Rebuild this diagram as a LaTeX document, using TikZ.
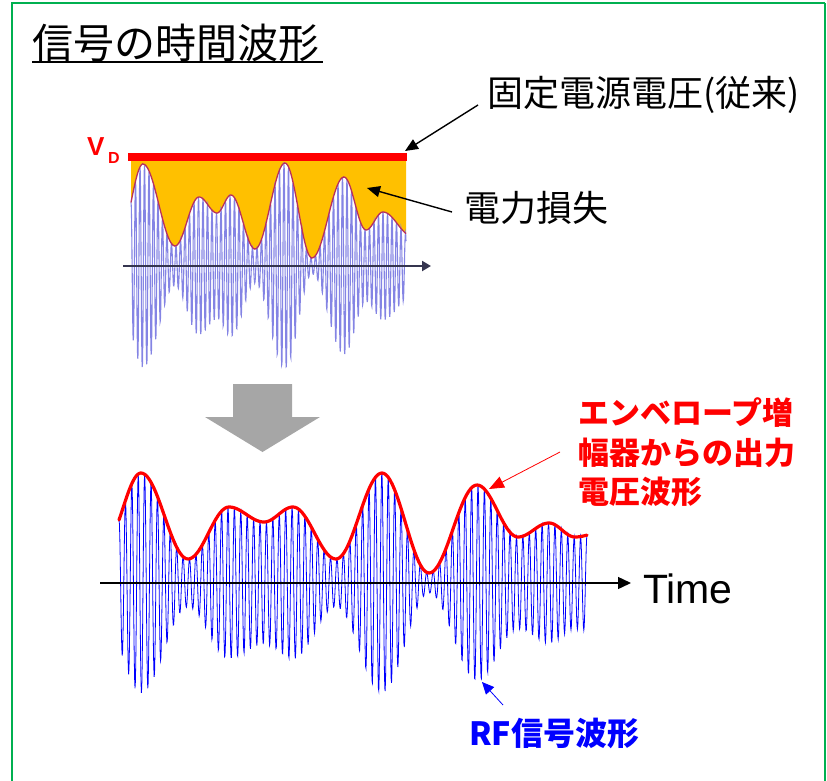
\documentclass[tikz,border=0pt]{standalone}
\usepackage{fontspec}
\setmainfont{Liberation Sans}
\newfontfamily\jp{Noto Sans CJK JP}
\usetikzlibrary{arrows.meta}
\definecolor{framegreen}{HTML}{00B050}
\definecolor{lossorange}{HTML}{FFC000}
\definecolor{arrowgray}{HTML}{A6A6A6}
\definecolor{topblue}{HTML}{8484E4}
\definecolor{topenv}{HTML}{B8305E}
\definecolor{topaxis}{HTML}{35354F}
\tikzset{
  leader/.style={line width=1.4pt,-{Triangle[length=13pt,width=11pt]}},
  jptext/.style={inner sep=0pt,anchor=west,font=\jp\fontsize{36}{36}\selectfont},
  redtext/.style={inner sep=0pt,anchor=west,text=red,font=\jp\bfseries\fontsize{31}{31}\selectfont},
  envline/.style={draw=red,line width=3.2pt,line join=round,line cap=round},
  rfwave/.style={draw=blue,line width=0.8pt},
  topwave/.style={draw=topblue,line width=1.1pt},
}
\def\botlist{119/141/105/40/141/110,141/188/141/110/188/24,188/229/188/24/229/76,229/264/229/76/264/61,264/293/264/61/293/76,293/336/293/76/336/24,336/382/336/24/382/110,382/429/382/110/429/10,429/477/429/10/477/98,477/518/477/98/518/46,518/549/518/46/549/60,549/575/549/60/575/46,575/587/575/46/600/50}
\def\toplist{131/143/120/30/143/102,143/175/143/102/175/20,175/199/175/20/199/69,199/217/199/69/217/53,217/231/217/53/231/71,231/255/231/71/255/17,255/285/255/17/285/103,285/312/285/103/312/8,312/344/312/8/344/89,344/366/344/89/366/36,366/383/366/36/383/54,383/406/383/54/412/30}
\begin{document}
\begin{tikzpicture}[x=1pt,y=-1pt]
\useasboundingbox (0,0) rectangle (827,781);
% frame
\begin{scope}
\clip (0,0) rectangle (827,781);
\draw[framegreen,line width=2pt] (12,800) -- (12,3) -- (825,3);
\draw[framegreen,line width=1.3pt] (825,3) -- (825,800);
\end{scope}
% title
\node[inner sep=0pt,anchor=west,font=\jp\fontsize{41}{41}\selectfont] (title) at (32,43) {信号の時間波形};
\draw[line width=2.8pt] (32,62) -- (323,62);
% ---------- top graph ----------
\fill[lossorange] (131,161) \foreach \xs/\xe/\xa/\ya/\xb/\yb in \toplist {
  -- plot[domain=\xs:\xe,samples=20] (\x,{266-(\ya+(\yb-\ya)*(1-cos(180*(\x-\xa)/(\xb-\xa)))/2)})
} -- (406,161) -- cycle;
\foreach \xs/\xe/\xa/\ya/\xb/\yb in \toplist {
  \pgfmathtruncatemacro\ns{(\xe-\xs)*16/4.5+2}
  \draw[topwave] plot[domain=\xs:\xe,samples=\ns] (\x,{266-(\ya+(\yb-\ya)*(1-cos(180*(\x-\xa)/(\xb-\xa)))/2)*cos(360*frac((\x-131)/4.5))});
}
\draw[topenv,line width=1.3pt] (131,{266-(30+72*(1-cos(180*11/23))/2)}) \foreach \xs/\xe/\xa/\ya/\xb/\yb in \toplist {
  -- plot[domain=\xs:\xe,samples=20] (\x,{266-(\ya+(\yb-\ya)*(1-cos(180*(\x-\xa)/(\xb-\xa)))/2)})
};
\draw[topaxis,line width=2pt,-{Triangle[length=9pt,width=10pt]}] (123,266) -- (431,266);
\draw[red,line width=8pt] (128,157) -- (407,157);
\node[inner sep=0pt,anchor=base west,text=red,font=\fontsize{26}{26}\selectfont\bfseries] (vd) at (87,156) {V};
\node[inner sep=0pt,anchor=base west,text=red,font=\fontsize{16}{16}\selectfont\bfseries] (vdsub) at (108,163) {D};
\coordinate (vdtip) at (405,151);
\coordinate (losstip) at (367,188);
\node[jptext] (fixed) at (487,95) {固定電源電圧(従来)};
\node[jptext] (loss) at (464,208) {電力損失};
\coordinate (fixedfoot) at (478,105);
\coordinate (lossfoot) at (452,212);
\draw[leader] (fixedfoot) -- (vdtip);
\draw[leader] (lossfoot) -- (losstip);
% ---------- big arrow ----------
\fill[arrowgray] (233,384) -- (292,384) -- (292,417) -- (320,417) -- (262.5,452) -- (205,417) -- (233,417) -- cycle;
% ---------- bottom graph ----------
\foreach \xs/\xe/\xa/\ya/\xb/\yb in \botlist {
  \pgfmathtruncatemacro\ns{(\xe-\xs)*16/6.411+2}
  \draw[rfwave] plot[domain=\xs:\xe,samples=\ns] (\x,{583-(\ya+(\yb-\ya)*(1-cos(180*(\x-\xa)/(\xb-\xa)))/2)*cos(360*frac((\x-119)/6.411))});
}
\coordinate (axstart) at (100,583);
\coordinate (axend) at (631,583);
\draw[line width=1.4pt,-{Triangle[length=13pt,width=12pt]}] (axstart) -- (axend);
\draw[envline] (119,{583-(40+70*(1-cos(70))/2)}) \foreach \xs/\xe/\xa/\ya/\xb/\yb in \botlist {
  -- plot[domain=\xs:\xe,samples=24] (\x,{583-(\ya+(\yb-\ya)*(1-cos(180*(\x-\xa)/(\xb-\xa)))/2)})
};
\node[inner sep=0pt,anchor=base west,font=\fontsize{41}{41}\selectfont] (time) at (643,603) {Time};
\node[redtext] (env1) at (578,413) {エンベロープ増};
\node[redtext] (env2) at (578,453) {幅器からの出力};
\node[redtext] (env3) at (578,492) {電圧波形};
\coordinate (envfoot) at (560,452);
\coordinate (envtip) at (489,489);
\draw[red,line width=0.8pt,-{Triangle[length=15pt,width=12pt]}] (envfoot) -- (envtip);
\node[inner sep=0pt,anchor=west,text=blue,font=\jp\bfseries\fontsize{32}{32}\selectfont] (rf) at (469,733) {RF信号波形};
\coordinate (rffoot) at (503,705);
\coordinate (rftip) at (482,682);
\draw[blue,line width=0.8pt,-{Triangle[length=12pt,width=11pt]}] (rffoot) -- (rftip);
\end{tikzpicture}
\end{document}
